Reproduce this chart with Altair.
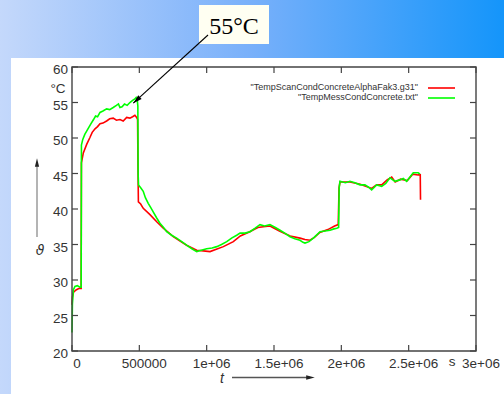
import altair as alt
import pandas as pd

# ---------------- data ----------------
red_t = [0, 3000, 12000, 30000, 50000, 68000, 70000, 84000, 109000, 134000,
         150000, 171000, 190000, 208000, 230000, 257000, 280000, 306000, 330000, 356000,
         380000, 406000, 430000, 450000, 467000, 480000, 487000, 490000, 493000, 510000,
         529000, 579000, 629000, 678000, 752000, 800000, 851000, 926000, 975000, 1025000,
         1124000, 1198000, 1250000, 1320000, 1380000, 1421000, 1470000, 1540000, 1620000, 1693000,
         1730000, 1767000, 1800000, 1840000, 1900000, 1950000, 1977000, 1983000, 1990000, 2064000,
         2140000, 2225000, 2262000, 2300000, 2340000, 2374000, 2400000, 2440000, 2490000, 2530000,
         2570000, 2586000, 2588000]
red_v = [26.5, 27.6, 28.3, 28.6, 28.8, 28.8, 46.5, 47.9, 49.1, 50.1,
         50.8, 51.3, 51.6, 52.0, 52.1, 52.4, 52.7, 52.8, 52.5, 52.6,
         52.4, 52.9, 52.8, 53.0, 53.2, 52.9, 52.6, 46.0, 41.0, 40.7,
         40.1, 39.2, 38.2, 37.3, 36.1, 35.5, 34.9, 34.2, 34.1, 34.0,
         34.7, 35.4, 36.2, 36.8, 37.4, 37.5, 37.6, 36.9, 36.2, 35.9,
         35.7, 35.6, 36.0, 36.7, 37.1, 37.6, 37.8, 43.0, 43.8, 43.8,
         43.5, 42.9, 43.4, 43.4, 44.1, 44.5, 43.8, 44.2, 44.0, 44.9,
         44.8, 44.8, 41.3]

green_t = [0, 3000, 10000, 22000, 40000, 58000, 68000, 70000, 80000, 95000,
           110000, 125000, 140000, 160000, 175000, 190000, 208000, 230000, 257000, 280000,
           306000, 330000, 345000, 356000, 372000, 390000, 410000, 430000, 450000, 467000,
           476000, 485000, 489000, 491000, 494000, 510000, 529000, 545000, 566000, 585000,
           603000, 630000, 653000, 680000, 703000, 740000, 777000, 815000, 851000, 890000,
           926000, 960000, 1000000, 1040000, 1075000, 1110000, 1149000, 1185000, 1223000, 1248000,
           1285000, 1322000, 1360000, 1396000, 1430000, 1470000, 1510000, 1545000, 1580000, 1619000,
           1655000, 1693000, 1715000, 1730000, 1760000, 1792000, 1820000, 1842000, 1880000, 1916000,
           1945000, 1966000, 1980000, 1984000, 1990000, 2030000, 2064000, 2101000, 2138000, 2175000,
           2200000, 2225000, 2262000, 2300000, 2330000, 2361000, 2398000, 2435000, 2460000, 2485000,
           2510000, 2534000, 2571000, 2584000]
green_v = [22.6, 26.6, 28.6, 29.1, 29.2, 29.0, 29.0, 49.0, 49.8, 50.5,
           51.0, 51.5, 52.0, 52.6, 53.1, 53.0, 53.6, 53.8, 54.1, 54.0,
           54.3, 54.6, 54.8, 54.3, 54.4, 54.8, 54.6, 55.0, 55.3, 55.5,
           55.7, 55.3, 54.5, 45.0, 43.4, 43.0, 42.5, 41.6, 40.8, 40.2,
           39.6, 38.7, 38.0, 37.4, 36.8, 36.3, 35.9, 35.4, 34.9, 34.4,
           34.0, 34.2, 34.4, 34.5, 34.7, 35.0, 35.4, 35.9, 36.3, 36.6,
           36.6, 36.8, 37.3, 37.8, 37.6, 37.8, 37.4, 37.0, 36.6, 36.1,
           35.8, 35.6, 35.3, 35.2, 35.4, 35.9, 36.4, 36.8, 36.9, 37.0,
           37.2, 37.3, 37.4, 43.0, 43.9, 43.7, 43.9, 43.7, 43.4, 43.4,
           43.1, 42.7, 43.4, 43.2, 43.6, 44.4, 43.9, 44.1, 44.3, 43.9,
           44.5, 45.1, 45.1, 44.9]

series_names = ['"TempScanCondConcreteAlphaFak3.g31"', '"TempMessCondConcrete.txt"']
series_colors = ["#ff0000", "#00ff00"]

x_tick_values = [0, 500000, 1000000, 1500000, 2000000, 2500000, 3000000]
x_tick_labels = ["0", "500000", "1e+06", "1.5e+06", "2e+06", "2.5e+06", "3e+06"]
y_tick_values = [20, 25, 30, 35, 40, 45, 50, 55, 60]
y_tick_labels = ["20", "25", "30", "35", "40", "45", "50", "55", "60"]

callout_text = "55\u00b0C"
arrow_tip_t = [455000]
arrow_tip_v = [54.9]

# ---------------- layout ----------------
W, H = 404, 284
LEFT, TOP = 72, 67
xs = alt.Scale(domain=[0, 3000000], nice=False, zero=False)
ys = alt.Scale(domain=[20, 60], nice=False, zero=False)
FONT = "Liberation Sans"
LBL = "#333333"
FRAME = "#444444"

one = pd.DataFrame({"k": [0]})
df_red = pd.DataFrame({"t": red_t, "v": red_v})
df_green = pd.DataFrame({"t": green_t, "v": green_v})
df_xt = pd.DataFrame({"t": x_tick_values, "lab": x_tick_labels})
df_yt = pd.DataFrame({"v": y_tick_values, "lab": y_tick_labels})
df_tip = pd.DataFrame({"t": arrow_tip_t, "v": arrow_tip_v})

X = lambda f: alt.X(f, scale=xs, axis=None)
Y = lambda f: alt.Y(f, scale=ys, axis=None)

grad = alt.Gradient(
    gradient="linear",
    stops=[alt.GradientStop(color="#c4d8fb", offset=0),
           alt.GradientStop(color="#78b0fa", offset=0.5),
           alt.GradientStop(color="#1495fa", offset=1)],
    x1=0, x2=1, y1=0, y2=0)

bg = alt.Chart(one).mark_rect(color=grad).encode(
    x=alt.value(-LEFT), x2=alt.value(504 - LEFT), y=alt.value(-TOP), y2=alt.value(394 - TOP))
panel = alt.Chart(one).mark_rect(color="white").encode(
    x=alt.value(11 - LEFT), x2=alt.value(504 - LEFT), y=alt.value(58 - TOP), y2=alt.value(394 - TOP))

frame = alt.Chart(one).mark_rect(fillOpacity=0, stroke=FRAME, strokeWidth=1.4).encode(
    x=alt.value(0), x2=alt.value(W), y=alt.value(0), y2=alt.value(H))

tick_l = alt.Chart(df_yt).mark_rule(color=FRAME, strokeWidth=1.2).encode(
    y=Y("v:Q"), x=alt.value(0), x2=alt.value(6))
tick_r = alt.Chart(df_yt).mark_rule(color=FRAME, strokeWidth=1.2).encode(
    y=Y("v:Q"), x=alt.value(W - 6), x2=alt.value(W))
tick_b = alt.Chart(df_xt).mark_rule(color=FRAME, strokeWidth=1.2).encode(
    x=X("t:Q"), y=alt.value(H - 6), y2=alt.value(H))
tick_t = alt.Chart(df_xt).mark_rule(color=FRAME, strokeWidth=1.2).encode(
    x=X("t:Q"), y=alt.value(0), y2=alt.value(6))

ylab = alt.Chart(df_yt).mark_text(align="right", baseline="middle", font=FONT, fontSize=13.5,
                                  color=LBL, dy=3).encode(y=Y("v:Q"), x=alt.value(-4), text="lab:N")
xlab = alt.Chart(df_xt).mark_text(align="center", baseline="middle", font=FONT, fontSize=13.5,
                                  color=LBL, dx=5).encode(x=X("t:Q"), y=alt.value(H + 12.5), text="lab:N")

red = alt.Chart(df_red).mark_line(color=series_colors[0], strokeWidth=1.6).encode(
    x=X("t:Q"), y=Y("v:Q"))
green = alt.Chart(df_green).mark_line(color=series_colors[1], strokeWidth=1.6).encode(
    x=X("t:Q"), y=Y("v:Q"))

# legend (gnuplot style, top right inside)
legend_layers = []
for i, (name, col) in enumerate(zip(series_names, series_colors)):
    ty = 19.5 + 10 * i
    legend_layers.append(alt.Chart(one).mark_text(
        align="right", baseline="middle", font=FONT, fontSize=9, color=LBL, text=name).encode(
        x=alt.value(346), y=alt.value(ty)))
    legend_layers.append(alt.Chart(one).mark_rule(color=col, strokeWidth=1.6).encode(
        x=alt.value(356), x2=alt.value(383), y=alt.value(ty + 1.5)))

# unit labels and axis labels with arrows
deg = alt.Chart(one).mark_text(align="center", baseline="middle", font=FONT, fontSize=13.5,
                               color=LBL, text="\u00b0C").encode(x=alt.value(-14), y=alt.value(22))
sec = alt.Chart(one).mark_text(align="center", baseline="middle", font=FONT, fontSize=13.5,
                               color=LBL, text="s").encode(x=alt.value(380), y=alt.value(295))
theta = alt.Chart(one).mark_text(align="center", baseline="middle", font="DejaVu Sans", fontSize=14,
                                 fontStyle="italic", color=LBL, text="\u03d1").encode(
    x=alt.value(-32), y=alt.value(184))
theta_line = alt.Chart(one).mark_rule(color="#8c8c8c", strokeWidth=1.3).encode(
    x=alt.value(-35), y=alt.value(170), y2=alt.value(96))
theta_head = alt.Chart(one).mark_point(shape="M0,-1L0.45,0.8L-0.45,0.8Z", filled=True, size=90,
                                       color="#222222", opacity=1).encode(
    x=alt.value(-35), y=alt.value(96))
tlab = alt.Chart(one).mark_text(align="center", baseline="middle", font=FONT, fontSize=14,
                                fontStyle="italic", color=LBL, text="t").encode(
    x=alt.value(150), y=alt.value(312))
t_line = alt.Chart(one).mark_rule(color="#555555", strokeWidth=1.3).encode(
    x=alt.value(160), x2=alt.value(238), y=alt.value(310.5))
t_head = alt.Chart(one).mark_point(shape="M0,-1L0.45,0.8L-0.45,0.8Z", filled=True, size=90,
                                   color="#222222", opacity=1, angle=90).encode(
    x=alt.value(238), y=alt.value(310.5))

# callout box with arrow
box = alt.Chart(one).mark_rect(color="#fffff2").encode(
    x=alt.value(199 - LEFT), x2=alt.value(269 - LEFT), y=alt.value(5 - TOP), y2=alt.value(44 - TOP))
box_text = alt.Chart(one).mark_text(align="center", baseline="alphabetic", font="Liberation Serif",
                                    fontSize=24, color="black", text=callout_text).encode(
    x=alt.value(234 - LEFT), y=alt.value(34 - TOP))
arrow_line = alt.Chart(df_tip).mark_rule(color="black", strokeWidth=1.1).encode(
    x=X("t:Q"), y=Y("v:Q"), x2=alt.value(208 - LEFT), y2=alt.value(35 - TOP))
arrow_head = alt.Chart(df_tip).mark_point(shape="M0,-1L0.5,0.8L-0.5,0.8Z", filled=True, size=100,
                                          color="black", opacity=1, angle=228,
                                          xOffset=3.7, yOffset=-3.4).encode(
    x=X("t:Q"), y=Y("v:Q"))

chart = alt.layer(
    bg, panel, red, green, frame, tick_l, tick_r, tick_b, tick_t, ylab, xlab,
    *legend_layers, deg, sec, theta, theta_line, theta_head, tlab, t_line, t_head,
    box, box_text, arrow_line, arrow_head
).properties(
    width=W, height=H,
    autosize=alt.AutoSizeParams(type="none"),
    padding={"left": LEFT, "top": TOP, "right": 504 - LEFT - W, "bottom": 394 - TOP - H},
    background="white",
).configure_view(stroke=None)

chart.save("out.html", embed_options={"renderer": "svg", "actions": False})
